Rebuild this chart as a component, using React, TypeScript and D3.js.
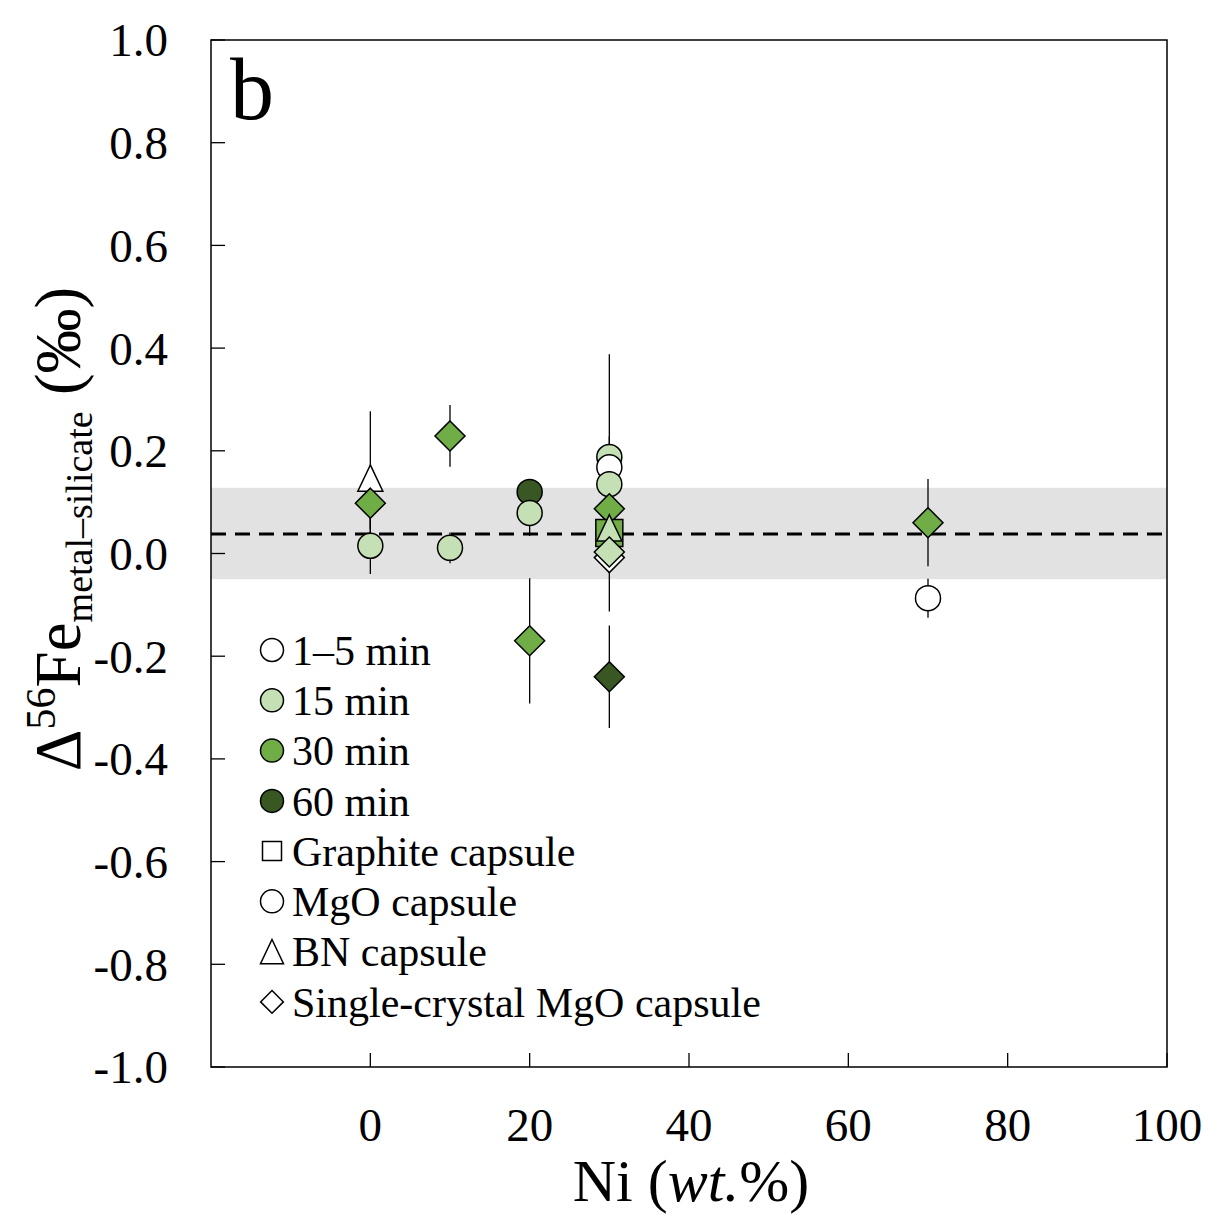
import * as d3 from 'd3';

// Ni content (wt.%) of each run
const niContent = [0, 0, 0, 10, 10, 20, 20, 20, 30, 30, 30, 30, 30, 30, 30, 30, 30, 70, 70];
// Δ56Fe metal–silicate (‰)
const deltaFe = [0.147, 0.098, 0.015, 0.229, 0.011, 0.12, 0.079, -0.17, 0.188, 0.168, 0.135, 0.087, 0.04, 0.05, -0.008, 0.003, -0.24, 0.06, -0.087];
// error (±‰)
const deltaErr = [0.13, 0.05, 0.055, 0.06, 0.03, 0.025, 0.045, 0.122, 0.2, 0.06, 0.05, 0.05, 0.04, 0.05, 0.105, 0.04, 0.1, 0.085, 0.038];
// run duration
const duration = ['1-5', '30', '15', '30', '15', '60', '15', '30', '15', '1-5', '15', '30', '30', '15', '1-5', '15', '60', '30', '1-5'];
// capsule type
const capsule = ['BN', 'SC', 'MgO', 'SC', 'MgO', 'MgO', 'MgO', 'SC', 'MgO', 'MgO', 'MgO', 'SC', 'Graphite', 'BN', 'SC', 'SC', 'SC', 'SC', 'MgO'];

const durationKeys = ['1-5', '15', '30', '60'];
const durationLabels = ['1–5 min', '15 min', '30 min', '60 min'];
const capsuleKeys = ['Graphite', 'MgO', 'BN', 'SC'];
const capsuleLabels = ['Graphite capsule', 'MgO capsule', 'BN capsule', 'Single-crystal MgO capsule'];

const meanValue = 0.038;
const bandLow = -0.05;
const bandHigh = 0.128;

const xTicks = [0, 20, 40, 60, 80, 100];
const yTicks = [-1.0, -0.8, -0.6, -0.4, -0.2, 0.0, 0.2, 0.4, 0.6, 0.8, 1.0];

const W = 1213;
const H = 1214;
const plot = { left: 211, right: 1167, top: 40, bottom: 1067 };
const font = '"Liberation Serif", "Times New Roman", serif';

const color = d3.scaleOrdinal<string, string>()
    .domain(durationKeys)
    .range(['#ffffff', '#c5e0b4', '#70ad47', '#385723']);

// shape path around (0,0), scaled by s
function shapePath(kind: string, s: number) {
    if (kind === 'MgO') {
        return `M${s},0A${s},${s} 0 1,1 ${-s},0A${s},${s} 0 1,1 ${s},0Z`;
    }
    if (kind === 'Graphite') {
        return `M${-s},${-s}H${s}V${s}H${-s}Z`;
    }
    if (kind === 'BN') {
        const h = s * 1.05;
        return `M0,${-h}L${s},${h}L${-s},${h}Z`;
    }
    const d = s * 1.2;
    return `M0,${-d}L${d},0L0,${d}L${-d},0Z`;
}

export default function App() {
    const x = d3.scaleLinear().domain([-20, 100]).range([plot.left, plot.right]);
    const y = d3.scaleLinear().domain([-1, 1]).range([plot.bottom, plot.top]);

    const points = niContent.map((ni, i) => ({
        ni,
        v: deltaFe[i],
        e: deltaErr[i],
        dur: duration[i],
        cap: capsule[i],
    }));

    return (
        <svg width={W} height={H} style={{ position: 'absolute', left: 0, top: 0, background: '#fff' }}
            fontFamily={font}>
            {/* grey band and mean */}
            <rect x={plot.left} width={plot.right - plot.left} y={y(bandHigh)} height={y(bandLow) - y(bandHigh)} fill="#e2e2e2" />
            <line x1={plot.left} x2={plot.right} y1={y(meanValue)} y2={y(meanValue)}
                stroke="#000" strokeWidth={3.2} strokeDasharray="15 9" />

            {/* error bars */}
            {points.map((p, i) => (
                <line key={'e' + i} x1={x(p.ni)} x2={x(p.ni)} y1={y(p.v + p.e)} y2={y(p.v - p.e)}
                    stroke="#000" strokeWidth={1.3} />
            ))}

            {/* markers */}
            {points.map((p, i) => (
                <path key={'m' + i} transform={`translate(${x(p.ni)},${y(p.v)})`}
                    d={shapePath(p.cap, p.cap === 'Graphite' ? 13.5 : 12.5)}
                    fill={color(p.dur)} stroke="#000" strokeWidth={1.5} />
            ))}

            {/* frame */}
            <rect x={plot.left} y={plot.top} width={plot.right - plot.left} height={plot.bottom - plot.top}
                fill="none" stroke="#000" strokeWidth={1.5} />

            {/* x ticks */}
            {xTicks.map(t => (
                <g key={'x' + t}>
                    <line x1={x(t)} x2={x(t)} y1={plot.bottom} y2={plot.bottom - 14} stroke="#000" strokeWidth={1.3} />
                    <text x={x(t)} y={1141} textAnchor="middle" fontSize={47}>{t}</text>
                </g>
            ))}

            {/* y ticks */}
            {yTicks.map(t => (
                <g key={'y' + t}>
                    <line x1={plot.left} x2={plot.left + 14} y1={y(t)} y2={y(t)} stroke="#000" strokeWidth={1.3} />
                    <text x={168} y={y(t)} dy="0.35em" textAnchor="end" fontSize={47}>{t.toFixed(1)}</text>
                </g>
            ))}

            {/* panel letter */}
            <text x={230} y={119} fontSize={88}>b</text>

            {/* axis titles */}
            <text x={(plot.left + plot.right) / 2 + 2} y={1201} textAnchor="middle" fontSize={60}>
                Ni (<tspan fontStyle="italic">wt.</tspan>%)
            </text>
            <text transform="translate(80,529) rotate(-90)" textAnchor="middle" fontSize={65}>
                Δ<tspan fontSize={42} dy={-25}>56</tspan>
                <tspan dy={25}>Fe</tspan>
                <tspan fontSize={38} dy={12}>metal–silicate</tspan>
                <tspan dy={-12}> (‰)</tspan>
            </text>

            {/* legend */}
            {durationKeys.map((k, i) => (
                <g key={'ld' + k} transform={`translate(272,${650 + i * 50.3})`}>
                    <path d={shapePath('MgO', 11.5)} fill={color(k)} stroke="#000" strokeWidth={1.5} />
                    <text x={20} dy="0.35em" fontSize={42}>{durationLabels[i]}</text>
                </g>
            ))}
            {capsuleKeys.map((k, i) => (
                <g key={'lc' + k} transform={`translate(272,${851 + i * 50.3})`}>
                    <path d={shapePath(k, k === 'Graphite' ? 9.5 : k === 'SC' ? 9.5 : 11.5)}
                        fill="#fff" stroke="#000" strokeWidth={1.5} />
                    <text x={20} dy="0.35em" fontSize={42}>{capsuleLabels[i]}</text>
                </g>
            ))}
        </svg>
    );
}
